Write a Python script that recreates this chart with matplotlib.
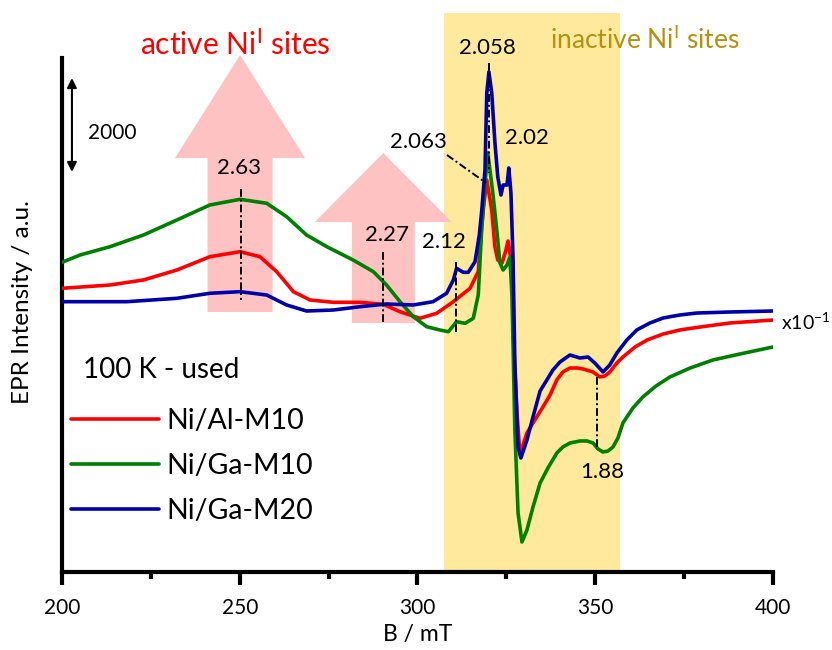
import matplotlib
matplotlib.use("Agg")
import matplotlib.pyplot as plt
from matplotlib.patches import FancyArrow

plt.rcParams['font.family'] = ['Lato', 'DejaVu Sans']
plt.rcParams['mathtext.default'] = 'regular'

# ---- EPR spectra (B in mT, intensity in a.u.) ----
b_al10 = [200.0, 213.5, 222.9, 232.3, 241.6, 250.1, 255.7, 260.4, 265.1, 269.8,
          276.3, 283.8, 290.4, 295.1, 300.7, 305.4, 310.1, 314.8, 317.1, 317.9,
          318.6, 319.5, 320.9, 321.8, 322.6, 323.8, 324.9, 325.5, 326.0, 326.6,
          326.9, 328.0, 328.8, 329.7, 330.8, 332.5, 335.3, 337.3, 339.2, 340.9,
          342.9, 344.9, 346.6, 349.4, 351.3, 352.7, 354.1, 356.1, 357.8, 361.2,
          364.6, 369.1, 373.8, 379.5, 387.9, 400.0]
i_al10 = [249, 319, 426, 638, 921, 1028, 921, 602, 177, 0,
          -49, -49, -92, -249, -389, -283, -36, 249, 602, 1400,
          1980, 2554, 1915, 1128, 851, 787, 1064, 1255, 1000, 787,
          -638, -2404, -3256, -3086, -2830, -2617, -2277, -2022, -1702, -1532,
          -1447, -1447, -1468, -1532, -1638, -1617, -1532, -1341, -1213, -1000,
          -851, -724, -638, -575, -489, -426]

b_ga10 = [200.0, 205.1, 213.5, 222.9, 232.3, 241.6, 250.1, 257.6, 263.2, 268.8,
          274.5, 281.9, 287.6, 291.3, 295.1, 298.8, 302.6, 306.3, 308.7, 311.0,
          313.4, 315.7, 317.1, 318.1, 319.0, 319.8, 321.2, 322.4, 323.2, 324.1,
          325.2, 326.0, 326.6, 327.4, 328.3, 329.4, 330.8, 332.5, 334.5, 336.7,
          339.2, 340.9, 342.9, 345.7, 347.7, 349.4, 350.8, 352.2, 353.6, 355.0,
          356.4, 357.8, 360.6, 363.4, 367.1, 371.0, 376.7, 383.1, 390.7, 400.0]
i_ga10 = [802, 958, 1134, 1383, 1702, 2022, 2143, 2058, 1773, 1383,
          1134, 851, 602, 319, -36, -355, -568, -638, -675, -462,
          -496, -389, 106, 1553, 2490, 3128, 2277, 1426, 787, 638,
          745, 915, 64, -2766, -4533, -5150, -4894, -4405, -3894, -3575,
          -3256, -3128, -3043, -3000, -3000, -3043, -3171, -3235, -3213, -3128,
          -2937, -2617, -2298, -2064, -1830, -1639, -1447, -1277, -1149, -1000]

b_ga20 = [200.0, 218.2, 232.3, 241.6, 250.1, 257.6, 263.2, 268.8, 276.3, 283.8,
          291.3, 298.8, 304.4, 308.2, 310.1, 311.0, 312.9, 314.3, 316.2, 317.4,
          318.1, 319.0, 319.5, 320.1, 320.9, 321.8, 322.6, 323.5, 324.1, 325.2,
          325.7, 326.3, 326.9, 327.4, 328.3, 329.1, 330.8, 332.5, 334.5, 336.4,
          338.1, 340.1, 342.9, 345.7, 348.0, 349.9, 352.2, 354.1, 356.1, 358.9,
          361.7, 365.4, 369.1, 373.8, 378.6, 387.9, 400.0]
i_ga20 = [-36, -36, 36, 143, 177, 106, -106, -234, -213, -143,
          -85, -106, -36, 143, 426, 675, 589, 589, 815, 1383,
          1915, 2766, 4405, 4852, 4405, 3341, 2617, 2234, 2447, 2447,
          2809, 2277, 851, -1341, -3128, -3362, -2979, -2490, -1936, -1702,
          -1490, -1319, -1170, -1234, -1213, -1341, -1532, -1383, -1128, -851,
          -638, -489, -383, -319, -277, -255, -234]

series_labels = ['Ni/Al-M10', 'Ni/Ga-M10', 'Ni/Ga-M20']
series_colors = ['#ff0000', '#008000', '#0000aa']

# g-values marked on the spectra, microwave frequency (GHz)
g_marks = ['2.63', '2.27', '2.12', '2.058', '2.063', '2.02', '1.88']
freq_ghz = 9.22


def field_from_g(g):
    return 71.4477 * freq_ghz / float(g)


fig = plt.figure(figsize=(8.32, 6.5), dpi=100)
ax = fig.add_axes([0.0745, 0.12, 0.8545, 0.8646])
ymin, ymax = -5788, 6171
ax.set_xlim(200, 400)
ax.set_ylim(ymin, ymax)

# spectral region of the inactive sites
ax.axvspan(307.5, 357.0, ymin=0, ymax=0.9947, color='#fee99c', lw=0, zorder=0)

# up arrows marking the active-site features
pink = '#ffc2c2'
ax.add_patch(FancyArrow(250.1, -255, 0, 5469, width=18.3, head_width=36.6,
                        head_length=2192, length_includes_head=True,
                        color=pink, lw=0, zorder=1))
ax.add_patch(FancyArrow(290.4, -489, 0, 3617, width=17.7, head_width=38.5,
                        head_length=1468, length_includes_head=True,
                        color=pink, lw=0, zorder=1))

# spectra
for b, inten, lab, col in zip([b_al10, b_ga10, b_ga20],
                              [i_al10, i_ga10, i_ga20],
                              series_labels, series_colors):
    ax.plot(b, inten, color=col, lw=2.6, label=lab, zorder=3,
            solid_joinstyle='round', solid_capstyle='round')

# g-value marker lines
dash = dict(color='black', lw=1.4, ls=(0, (4, 1.5, 1, 1.5)), zorder=4)
ax.plot([field_from_g('2.63')] * 2, [2362, 0], **dash)
ax.plot([field_from_g('2.27')] * 2, [1021, -532], **dash)
ax.plot([field_from_g('2.12')] * 2, [809, -702], **dash)
ax.plot([field_from_g('2.058')] * 2, [5043, 2703], **dash)
ax.plot([field_from_g('1.88')] * 2, [-1639, -3192], **dash)
ax.plot([308.3, field_from_g('2.063')], [3086, 2490], **dash)

fs_g = 16
ax.text(249.8, 2809, '2.63', fontsize=fs_g, ha='center', va='center', zorder=5)
ax.text(291.4, 1383, '2.27', fontsize=fs_g, ha='center', va='center', zorder=5)
ax.text(307.5, 1234, '2.12', fontsize=fs_g, ha='center', va='center', zorder=5)
ax.text(319.8, 5363, '2.058', fontsize=fs_g, ha='center', va='center', zorder=5)
ax.text(308.3, 3362, '2.063', fontsize=fs_g, ha='right', va='center', zorder=5)
ax.text(330.8, 3447, '2.02', fontsize=fs_g, ha='center', va='center', zorder=5)
ax.text(351.9, -3660, '1.88', fontsize=fs_g, ha='center', va='center', zorder=5)

# headings
ax.text(248.7, 5426, r'active Ni$^{\mathregular{I}}$ sites', color='#ff0000',
        fontsize=21.5, ha='center', va='center')
ax.text(364.0, 5533, r'inactive Ni$^{\mathregular{I}}$ sites', color='#b39212',
        fontsize=19, ha='center', va='center')

# intensity scale bar
ax.annotate('', xy=(202.8, 4724), xytext=(202.8, 2724),
            arrowprops=dict(arrowstyle='<|-|>', color='black', lw=1.5,
                            mutation_scale=14, shrinkA=0, shrinkB=0))
ax.text(214.1, 3554, '2000', fontsize=15, ha='center', va='center')

ax.text(402.2, -468, r'x10$^{\mathregular{-1}}$', fontsize=14, ha='left',
        va='center', clip_on=False)

# legend
ax.text(205.9, -1490, '100 K - used', fontsize=20, ha='left', va='center')
ax.legend(loc='upper left', bbox_to_anchor=(0.012, 0.291), frameon=False,
          fontsize=20.5, handlelength=3.1, handletextpad=0.28, labelspacing=0.66,
          borderpad=0, borderaxespad=0)

# axes styling
for side in ('top', 'right'):
    ax.spines[side].set_visible(False)
ax.spines['left'].set_linewidth(3)
ax.spines['bottom'].set_linewidth(3)
ax.spines['left'].set_bounds(ymin, 5150)
ax.set_yticks([])
ax.set_xticks([200, 250, 300, 350, 400])
ax.set_xticks([225, 275, 325, 375], minor=True)
ax.tick_params(axis='x', which='major', direction='out', length=9, width=3,
               labelsize=15, pad=10)
ax.tick_params(axis='x', which='minor', direction='out', length=5, width=3)
ax.set_xlabel('B / mT', fontsize=16.5, labelpad=4)
ax.set_ylabel('EPR Intensity / a.u.', fontsize=17.5)
ax.yaxis.set_label_coords(-0.041, 0.48)

fig.savefig('out.png', dpi=100)
